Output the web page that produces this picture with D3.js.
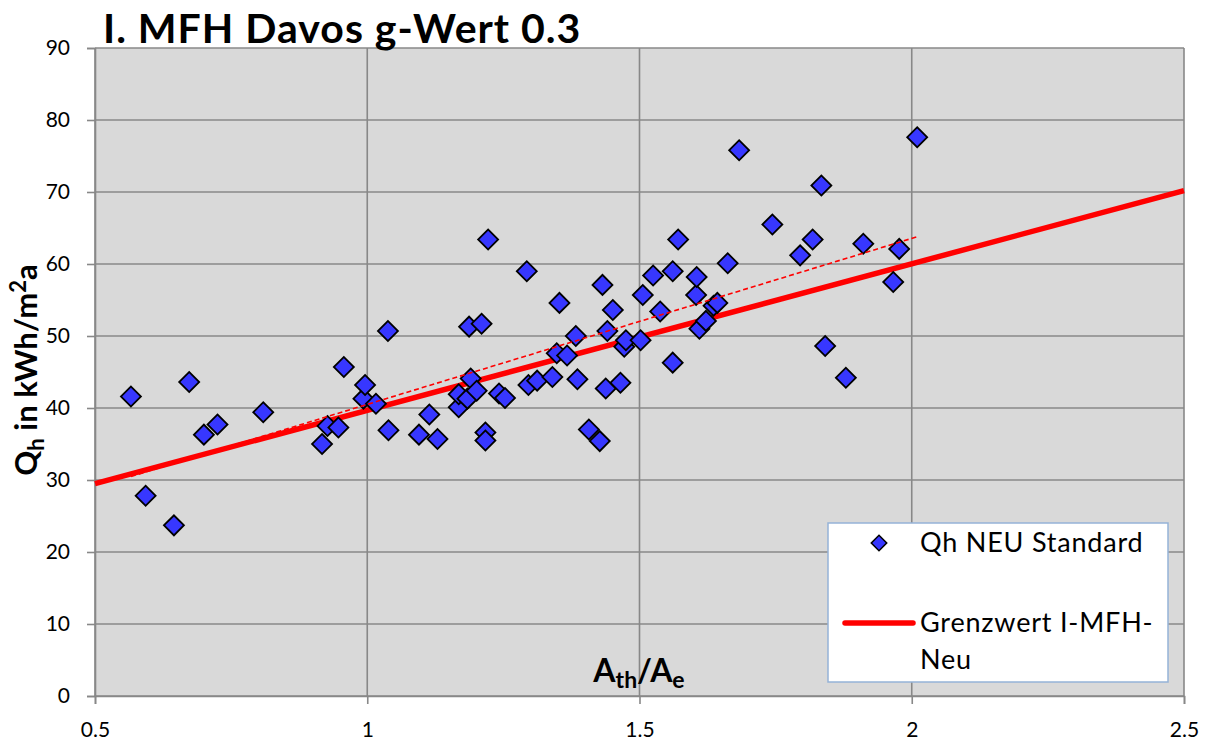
<!DOCTYPE html>
<html>
<head>
<meta charset="utf-8">
<script src="https://cdn.jsdelivr.net/npm/d3@7"></script>
<style>
  html, body { margin: 0; padding: 0; background: #ffffff; }
  svg { display: block; }
  text { font-family: Lato, "Open Sans", sans-serif; fill: #000; }
</style>
</head>
<body>
<svg id="chart" width="1207" height="742"></svg>
<script>
// Ath/Ae ratio of each building
const ratio = [
  0.566, 0.593, 0.645, 0.673, 0.700, 0.725, 0.809, 0.917, 0.927, 0.947,
  0.957, 0.993, 0.996, 1.016, 1.038, 1.039, 1.095, 1.114, 1.129, 1.168,
  1.168, 1.184, 1.187, 1.190, 1.201, 1.210, 1.217, 1.217, 1.222, 1.242,
  1.253, 1.293, 1.296, 1.312, 1.340, 1.348, 1.353, 1.367, 1.383, 1.386,
  1.407, 1.427, 1.432, 1.438, 1.441, 1.451, 1.465, 1.472, 1.475, 1.502,
  1.506, 1.525, 1.538, 1.561, 1.561, 1.571, 1.604, 1.605, 1.610, 1.622,
  1.636, 1.643, 1.662, 1.683, 1.744, 1.795, 1.818, 1.834, 1.841, 1.879,
  1.911, 1.966, 1.977, 2.010
];
// Heating demand Qh in kWh/m2a (Qh NEU Standard)
const qh = [
  41.6, 27.8, 23.7, 43.6, 36.3, 37.7, 39.4, 35.0, 37.5, 37.3,
  45.7, 41.3, 43.2, 40.6, 50.7, 36.9, 36.3, 39.1, 35.7, 40.1,
  41.9, 41.3, 51.3, 44.1, 42.4, 51.7, 36.6, 35.5, 63.4, 42.0,
  41.4, 59.0, 43.2, 43.8, 44.3, 47.6, 54.6, 47.3, 50.0, 44.0,
  37.0, 35.4, 57.1, 42.7, 50.7, 53.6, 43.5, 48.5, 49.4, 49.4,
  55.7, 58.4, 53.4, 59.0, 46.3, 63.4, 55.7, 58.2, 51.0, 52.1,
  54.2, 54.6, 60.1, 75.8, 65.5, 61.2, 63.4, 70.9, 48.6, 44.2,
  62.8, 57.5, 62.1, 77.6
];
// Limit value line "Grenzwert I-MFH-Neu"
const limitX = [0.5, 2.5];
const limitY = [29.5, 70.2];

// Axis ticks
const xTicks = [0.5, 1, 1.5, 2, 2.5];
const xTickLabels = ["0.5", "1", "1.5", "2", "2.5"];
const yTicks = [0, 10, 20, 30, 40, 50, 60, 70, 80, 90];

const titleText = "I. MFH Davos g-Wert 0.3";
const legendLabels = ["Qh NEU Standard", "Grenzwert I-MFH-", "Neu"];

const svg = d3.select("#chart");
const plotL = 95, plotR = 1184, plotT = 48, plotB = 696;

const x = d3.scaleLinear().domain([0.5, 2.5]).range([plotL, plotR]);
const y = d3.scaleLinear().domain([0, 90]).range([plotB, plotT]);

// plot area
svg.append("rect")
  .attr("x", plotL).attr("y", plotT)
  .attr("width", plotR - plotL).attr("height", plotB - plotT)
  .attr("fill", "#d9d9d9");

const gridColor = "#888888";

// gridlines
svg.append("g").selectAll("line").data(yTicks).join("line")
  .attr("x1", plotL).attr("x2", plotR)
  .attr("y1", d => y(d)).attr("y2", d => y(d))
  .attr("stroke", gridColor).attr("stroke-width", 1.6);
svg.append("g").selectAll("line").data(xTicks).join("line")
  .attr("x1", d => x(d)).attr("x2", d => x(d))
  .attr("y1", plotT).attr("y2", plotB)
  .attr("stroke", gridColor).attr("stroke-width", 1.6);

// axes
const yAxis = d3.axisLeft(y).tickValues(yTicks).tickSize(8).tickPadding(17)
  .tickFormat(d3.format("d"));
const gy = svg.append("g").attr("transform", `translate(${plotL},0)`).call(yAxis);
const xAxis = d3.axisBottom(x).tickValues(xTicks).tickSize(8).tickPadding(18)
  .tickFormat((d, i) => xTickLabels[i]);
const gx = svg.append("g").attr("transform", `translate(0,${plotB})`).call(xAxis);
[gx, gy].forEach(g => {
  g.select(".domain").attr("stroke", gridColor).attr("stroke-width", 1.6);
  g.selectAll(".tick line").attr("stroke", gridColor).attr("stroke-width", 1.6);
  g.selectAll(".tick text").attr("font-family", "Lato, sans-serif")
    .attr("font-size", 21).attr("fill", "#000");
});

// limit line
const limitPts = limitX.map((v, i) => [v, limitY[i]]);
const lineGen = d3.line().x(d => x(d[0])).y(d => y(d[1]));
svg.append("path").datum(limitPts)
  .attr("d", lineGen)
  .attr("fill", "none").attr("stroke", "#ff0000").attr("stroke-width", 5.5);

// markers
const pts = ratio.map((v, i) => [v, qh[i]]);
const diamond = d3.symbol().type(d3.symbolSquare).size(200);
svg.append("g").selectAll("path").data(pts).join("path")
  .attr("d", diamond)
  .attr("transform", d => `translate(${x(d[0])},${y(d[1])}) rotate(45)`)
  .attr("fill", "#3737ff").attr("stroke", "#000").attr("stroke-width", 1.8);

// linear trend of the measured values
const mx = d3.mean(ratio), my = d3.mean(qh);
const sxy = d3.sum(pts, d => (d[0] - mx) * (d[1] - my));
const sxx = d3.sum(ratio, v => (v - mx) * (v - mx));
const slope = sxy / sxx, icpt = my - slope * mx;
const xr = d3.extent(ratio);
svg.append("path").datum(xr.map(v => [v, icpt + slope * v]))
  .attr("d", lineGen)
  .attr("fill", "none").attr("stroke", "#ff0000").attr("stroke-width", 1.6)
  .attr("stroke-dasharray", "5,3");

// title
svg.append("text")
  .attr("x", 103).attr("y", 43)
  .attr("font-size", 41).attr("font-weight", 700)
  .attr("letter-spacing", 1)
  .text(titleText);

// y axis title
const yt = svg.append("text")
  .attr("transform", "translate(37,370) rotate(-90)")
  .attr("text-anchor", "middle")
  .attr("font-size", 31).attr("font-weight", 700);
yt.append("tspan").text("Q");
yt.append("tspan").attr("font-size", 22).attr("dy", 7).text("h");
yt.append("tspan").attr("dy", -7).text(" in kWh/m");
yt.append("tspan").attr("font-size", 22).attr("dy", -11).text("2");
yt.append("tspan").attr("dy", 11).text("a");

// x axis title
const xt = svg.append("text")
  .attr("x", 639).attr("y", 682)
  .attr("text-anchor", "middle")
  .attr("font-size", 32).attr("font-weight", 700);
xt.append("tspan").text("A");
xt.append("tspan").attr("font-size", 23).attr("dy", 6).text("th");
xt.append("tspan").attr("dy", -6).text("/A");
xt.append("tspan").attr("font-size", 23).attr("dy", 6).text("e");

// legend
const lg = svg.append("g");
lg.append("rect")
  .attr("x", 828).attr("y", 523).attr("width", 340).attr("height", 159)
  .attr("fill", "#ffffff").attr("stroke", "#95b3d7").attr("stroke-width", 1.5);
lg.append("path")
  .attr("d", d3.symbol().type(d3.symbolSquare).size(120))
  .attr("transform", "translate(879,543) rotate(45)")
  .attr("fill", "#3737ff").attr("stroke", "#000").attr("stroke-width", 1.5);
lg.append("line")
  .attr("x1", 845).attr("x2", 913).attr("y1", 623).attr("y2", 623)
  .attr("stroke", "#ff0000").attr("stroke-width", 5.5).attr("stroke-linecap", "round");
const lgText = lg.append("g").attr("font-size", 27).attr("letter-spacing", 0.8);
lgText.append("text").attr("x", 920).attr("y", 552).text(legendLabels[0]);
lgText.append("text").attr("x", 920).attr("y", 632).text(legendLabels[1]);
lgText.append("text").attr("x", 920).attr("y", 669).text(legendLabels[2]);
</script>
</body>
</html>
